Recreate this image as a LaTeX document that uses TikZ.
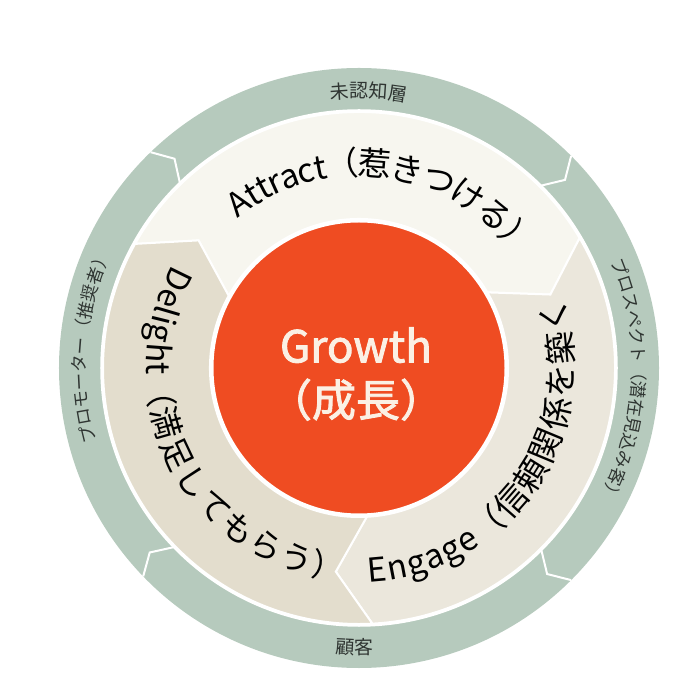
\documentclass[tikz,border=0pt]{standalone}
\usepackage{fontspec}
\setmainfont{Noto Sans CJK JP}
\usetikzlibrary{decorations.text}
\definecolor{ringgreen}{HTML}{B6CABD}
\definecolor{attractcol}{HTML}{F7F6EF}
\definecolor{engagecol}{HTML}{EBE7DC}
\definecolor{delightcol}{HTML}{E3DDCD}
\definecolor{growthred}{HTML}{EF4C22}
\definecolor{growthtext}{HTML}{FBF0E4}
\definecolor{ringlabel}{HTML}{2F3532}
\newcommand{\ringfont}{\fontsize{19}{22}\selectfont}
\newcommand{\sidefont}{\fontsize{17.5}{20}\selectfont}
\newcommand{\flysegment}[3]{\draw [white,line width=2,fill=#3] (#1:256) arc[start angle=#1,end angle=#2,radius=256]
	-- (#2-9.5:205) -- (#2:149) arc[start angle=#2,end angle=#1,radius=149] -- (#1-9.5:205) -- cycle;}
\begin{document}
\begin{tikzpicture}[x=1pt,y=1pt,
	segtext/.style 2 args={decorate,decoration={text along path,raise=-12.5pt,text color=black,text={|\fontsize{#1}{40}\selectfont|#2}}},
	ringtext/.style={decorate,decoration={text along path,text align=center,text color=ringlabel,text={|\ringfont|#1}}},
	sidetext/.style={decorate,decoration={text along path,text color=ringlabel,text={|\sidefont|#1}}}]
\useasboundingbox (-359,-332) rectangle (341,368);
\fill [ringgreen] (0,0) circle[radius=300];
\foreach \a in {45,134,224,315}
	\draw [white,line width=2] (\a:300) -- (\a-2.6:279) -- (\a:258);
\draw [white,line width=2.5] (0,0) circle[radius=257.5];
\flysegment{151}{30.5}{attractcol}
\flysegment{30.5}{-87}{engagecol}
\flysegment{273}{151}{delightcol}
\draw [white,line width=3,fill=growthred] (0,0) circle[radius=147];
\node [align=center,text=growthtext,font=\fontsize{44}{54}\selectfont\addfontfeatures{FakeBold=2}] (growth) at (-3,-6) {Growth\\（成長）};
\path [segtext={33}{Attract（惹きつける）}] (128.8:205) arc[start angle=128.8,end angle=20,radius=205];
\path [segtext={33}{Engage（信頼関係を築く}] (272.5:202) arc[start angle=272.5,end angle=400,radius=202];
\path [segtext={32.5}{Delight（満足してもらう）}] (150.8:200) arc[start angle=150.8,end angle=275,radius=200];
\path [ringtext={未認知層}] (118:270) arc[start angle=118,end angle=58,radius=270];
\path [ringtext={顧客}] (239:286) arc[start angle=239,end angle=299,radius=286];
\path [sidetext={プロスペクト（潜在見込み客）}] (23:273.5) arc[start angle=23,end angle=-45,radius=273.5];
\path [sidetext={プロモーター（推奨者）}] (195.7:273) arc[start angle=195.7,end angle=140,radius=273];
\end{tikzpicture}
\end{document}
